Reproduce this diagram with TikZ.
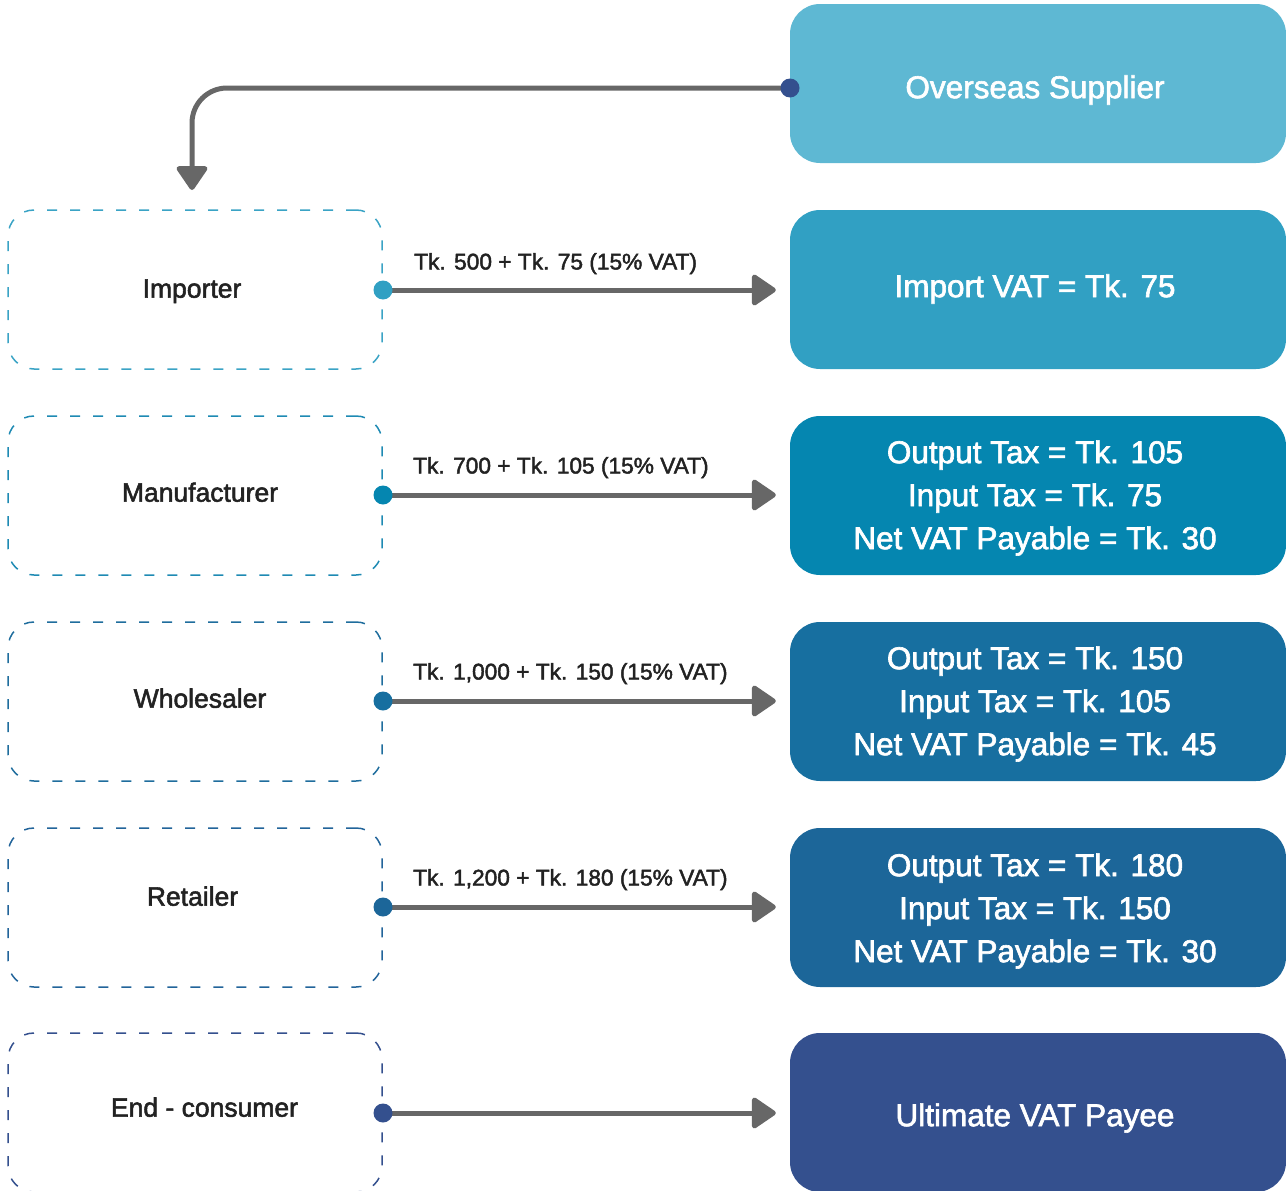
\documentclass[tikz,border=0pt]{standalone}
\usepackage{fontspec}
\setmainfont[FakeBold=2]{Liberation Sans}
\newfontfamily\medfont[FakeBold=2]{Liberation Sans}
\usetikzlibrary{arrows.meta,calc}
\definecolor{cOver}{HTML}{5EB8D3}
\definecolor{cImp}{HTML}{31A0C3}
\definecolor{cMan}{HTML}{0586B0}
\definecolor{cWho}{HTML}{176FA0}
\definecolor{cRet}{HTML}{1C6699}
\definecolor{cEnd}{HTML}{34508E}
\definecolor{dImp}{HTML}{3AA3C5}
\definecolor{dMan}{HTML}{1E8AB3}
\definecolor{dWho}{HTML}{1F6D9D}
\definecolor{dRet}{HTML}{22649A}
\definecolor{arrowgray}{HTML}{676767}
\definecolor{textdark}{HTML}{222222}
\tikzset{
  rbox/.style={rounded corners=30pt, minimum width=496pt, minimum height=159pt, inner sep=0pt},
  lbox/.style={draw, rounded corners=26pt, minimum width=374pt, minimum height=159pt, inner sep=0pt, line width=1.5pt, dash pattern=on 10pt off 13pt},
  dotn/.style={circle, inner sep=0pt, minimum size=19pt},
  flow/.style={draw=arrowgray, line width=5pt, -{Triangle[length=26pt,width=34pt,round]}},
  rtext/.style={text=white, font=\medfont\fontsize{31.5}{43}\selectfont, align=center},
  ltext/.style={text=textdark, font=\medfont\fontsize{26.5}{30}\selectfont, anchor=base},
  atext/.style={text=textdark, font=\medfont\fontsize{22.7}{26}\selectfont, anchor=base west, inner sep=0pt}
}
\begin{document}
\begin{tikzpicture}[x=1pt,y=-1pt]
\useasboundingbox (0,0) rectangle (1286,1191);
\clip (0,0) rectangle (1286,1191);
% right boxes
\node[rbox, fill=cOver] (bOver) at (1038,83.5) {};
\node[rbox, fill=cImp]  (bImp)  at (1038,289.5) {};
\node[rbox, fill=cMan]  (bMan)  at (1038,495.5) {};
\node[rbox, fill=cWho]  (bWho)  at (1038,701.5) {};
\node[rbox, fill=cRet]  (bRet)  at (1038,907.5) {};
\node[rbox, fill=cEnd]  (bEnd)  at (1038,1112.5) {};
\node[rtext] (tOver) at (1035,90) {Overseas Supplier};
\node[rtext] (tImp)  at (1035,289) {Import VAT = Tk. 75};
\node[rtext] (tMan)  at (1035,498) {Output Tax = Tk. 105\\Input Tax = Tk. 75\\Net VAT Payable = Tk. 30};
\node[rtext] (tWho)  at (1035,704) {Output Tax = Tk. 150\\Input Tax = Tk. 105\\Net VAT Payable = Tk. 45};
\node[rtext] (tRet)  at (1035,911) {Output Tax = Tk. 180\\Input Tax = Tk. 150\\Net VAT Payable = Tk. 30};
\node[rtext] (tEnd)  at (1035,1118) {Ultimate VAT Payee};
% left dashed boxes
\node[lbox, draw=dImp] (lImp) at (195,289.5) {};
\node[lbox, draw=dMan] (lMan) at (195,495.5) {};
\node[lbox, draw=dWho] (lWho) at (195,701.5) {};
\node[lbox, draw=dRet] (lRet) at (195,907.5) {};
\node[lbox, draw=cEnd] (lEnd) at (195,1112.5) {};
\node[ltext] (nImp) at (192,297.7) {Importer};
\node[ltext] (nMan) at (200,501.7) {Manufacturer};
\node[ltext] (nWho) at (200,707.7) {Wholesaler};
\node[ltext] (nRet) at (192.5,905.7) {Retailer};
\node[ltext] (nEnd) at (204.5,1116.7) {End - consumer};
% dots
\node[dotn] (dOver) at (790,88) {};
\node[dotn] (dImpN) at (383,290) {};
\node[dotn] (dManN) at (383,495) {};
\node[dotn] (dWhoN) at (383,701) {};
\node[dotn] (dRetN) at (383,907) {};
\node[dotn] (dEndN) at (383,1113) {};
\coordinate (impTip) at (192,190);
% connectors
\draw[flow, rounded corners=35pt] (dOver.center) -| (impTip);
\draw[flow, shorten >=14pt] (dImpN.center) -- (dImpN.center -| bImp.west);
\draw[flow, shorten >=14pt] (dManN.center) -- (dManN.center -| bMan.west);
\draw[flow, shorten >=14pt] (dWhoN.center) -- (dWhoN.center -| bWho.west);
\draw[flow, shorten >=14pt] (dRetN.center) -- (dRetN.center -| bRet.west);
\draw[flow, shorten >=14pt] (dEndN.center) -- (dEndN.center -| bEnd.west);
% dots on top
\fill[cEnd] (dOver) circle (9.5pt);
\fill[cImp] (dImpN) circle (9.5pt);
\fill[cMan] (dManN) circle (9.5pt);
\fill[cWho] (dWhoN) circle (9.5pt);
\fill[cRet] (dRetN) circle (9.5pt);
\fill[cEnd] (dEndN) circle (9.5pt);
% arrow labels
\node[atext] (aImp) at (414,269.5) {Tk. 500 + Tk. 75 (15\% VAT)};
\node[atext] (aMan) at (413,473.5) {Tk. 700 + Tk. 105 (15\% VAT)};
\node[atext] (aWho) at (413,679.5) {Tk. 1,000 + Tk. 150 (15\% VAT)};
\node[atext] (aRet) at (413,885.5) {Tk. 1,200 + Tk. 180 (15\% VAT)};
\end{tikzpicture}
\end{document}
